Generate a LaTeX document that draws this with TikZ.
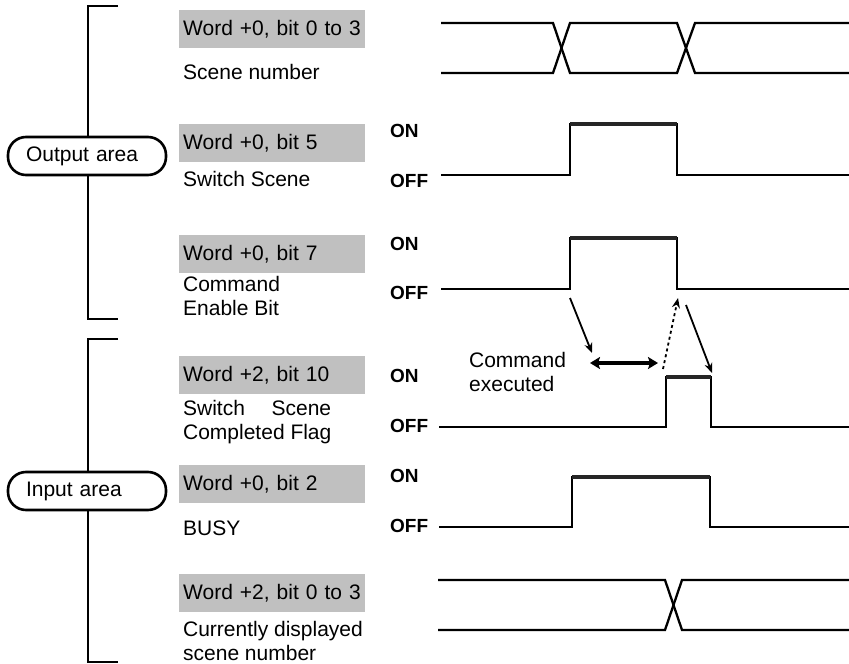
\documentclass[tikz,border=0pt]{standalone}
\usepackage{fontspec}
\setmainfont{Liberation Sans}
\usetikzlibrary{arrows.meta,positioning}
\definecolor{wordgray}{RGB}{192,192,192}

\begin{document}
\begin{tikzpicture}[x=1pt, y=-1pt, >=Stealth, line width=2.3pt,
	font=\fontsize{21}{23.5}\selectfont,
	wordbox/.style={fill=wordgray, anchor=north west, minimum height=38pt,
		inner xsep=4pt, inner ysep=0pt, text width=178pt, align=left},
	desc/.style={anchor=west, inner sep=0pt, align=left},
	level/.style={anchor=west, inner sep=0pt, font=\fontsize{19}{22}\selectfont\bfseries},
	area/.style={draw, fill=white, line width=2.6pt, rounded corners=18pt,
		minimum height=38pt, inner xsep=18pt, text width=122pt, align=left},
	bracket/.style={line width=2.6pt},
	onlevel/.style={line width=4pt, black!85},
	cmdarrow/.style={->, line width=1.8pt, >={Stealth[length=10pt,width=8pt]}}]
	
	\useasboundingbox (0,0) rectangle (849,664);
	
	% brackets
	\draw[bracket] (118,6) -- (88,6) -- (88,319) -- (118,319);
	\draw[bracket] (118,339) -- (88,339) -- (88,662) -- (118,662);
	\node[area] (outArea) at (87,156) {Output area};
	\node[area] (inArea) at (87,491) {Input area};
	
	% signal names
	\node[wordbox] (w1) at (178,9)   {Word +0, bit 0 to 3};
	\node[wordbox] (w2) at (178,123) {Word +0, bit 5};
	\node[wordbox] (w3) at (178,234) {Word +0, bit 7};
	\node[wordbox] (w4) at (178,355) {Word +2, bit 10};
	\node[wordbox] (w5) at (178,464) {Word +0, bit 2};
	\node[wordbox] (w6) at (178,573) {Word +2, bit 0 to 3};
	
	\node[desc] (d1) at (182,72)  {Scene number};
	\node[desc] (d2) at (182,179) {Switch Scene};
	\node[desc] (d3) at (182,296) {Command\\Enable Bit};
	\node[desc] (d4) at (182,422) {\makebox[148pt][s]{Switch Scene}\\Completed Flag};
	\node[desc] (d5) at (182,528) {BUSY};
	\node[desc] (d6) at (182,641) {Currently displayed\\scene number};
	
	\foreach \y/\t [count=\i] in {131/ON,181/OFF,244/ON,293/OFF,376/ON,426/OFF,476/ON,526/OFF}
		\node[level] (lv\i) at (389,\y) {\t};
	
	% scene number
	\draw (441,23) -- (553,23) -- (570,73) -- (677,73) -- (695,23) -- (849,23);
	\draw (441,73) -- (553,73) -- (570,23) -- (677,23) -- (695,73) -- (849,73);
	
	% switch scene
	\draw (441,175) -- (570,175) -- (570,124) -- (677,124) -- (677,175) -- (849,175);
	\draw[onlevel] (570,124) -- (677,124);
	
	% command enable bit
	\coordinate (ceRise) at (570,289);
	\coordinate (ceFall) at (677,289);
	\draw (441,289) -- (ceRise) -- (570,238) -- (677,238) -- (ceFall) -- (849,289);
	\draw[onlevel] (570,238) -- (677,238);
	
	% switch scene completed flag
	\coordinate (cfRise) at (666,377);
	\coordinate (cfFall) at (711,377);
	\draw (439,427) -- (666,427) -- (cfRise) -- (cfFall) -- (711,427) -- (849,427);
	\draw[onlevel] (cfRise) -- (cfFall);
	
	% busy
	\draw (439,527) -- (572,527) -- (572,477) -- (710,477) -- (710,527) -- (849,527);
	\draw[onlevel] (572,477) -- (710,477);
	
	% currently displayed scene number
	\draw (438,580) -- (665,580) -- (682,630) -- (849,630);
	\draw (438,630) -- (665,630) -- (682,580) -- (849,580);
	
	% command execution
	\coordinate (exL) at (590,363);
	\coordinate (exR) at (658,363);
	\node[desc] (exec) at (468,372) {Command\\executed};
	\draw[cmdarrow] (570,298) -- (592,353);
	\draw[<->, line width=3.5pt, >={Stealth[length=10pt,width=12pt,inset=2pt]}] (exL) -- (exR);
	\draw[cmdarrow, dashed] (663,369) -- (678,298);
	\draw[cmdarrow] (686,305) -- (712,373);
	
\end{tikzpicture}
\end{document}
